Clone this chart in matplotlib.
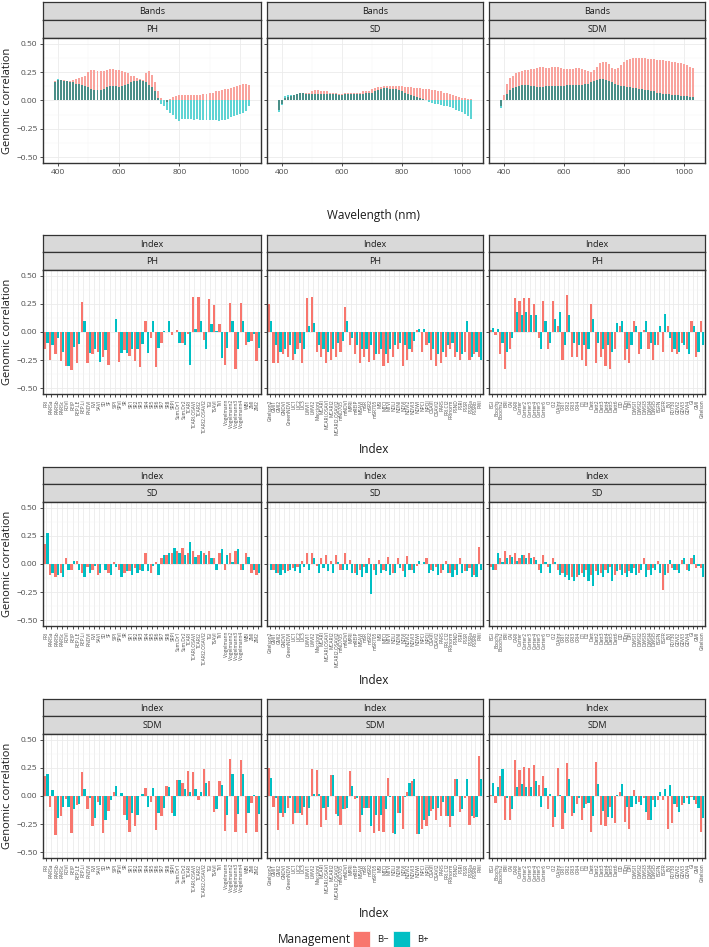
import numpy as np
import matplotlib.pyplot as plt
from matplotlib.patches import Rectangle

plt.rcParams['font.family'] = ['Open Sans', 'DejaVu Sans']

# ---- data: spectral bands (nm) ----
wavelength = np.arange(390, 1031, 10)

bands_ph_bminus = [0.17, 0.18, 0.18, 0.18, 0.17, 0.17, 0.18, 0.19, 0.20, 0.21,
                   0.22, 0.25, 0.27, 0.27, 0.26, 0.26, 0.26, 0.27, 0.28, 0.28,
                   0.27, 0.27, 0.26, 0.25, 0.24, 0.22, 0.22, 0.20, 0.19, 0.18,
                   0.24, 0.26, 0.23, 0.16, 0.08, 0.02, 0.00, -0.01, 0.01, 0.03,
                   0.04, 0.05, 0.05, 0.05, 0.05, 0.05, 0.05, 0.05, 0.05, 0.06,
                   0.06, 0.07, 0.07, 0.08, 0.08, 0.09, 0.10, 0.10, 0.11, 0.12,
                   0.13, 0.14, 0.15, 0.15, 0.14]
bands_ph_bplus = [0.16, 0.19, 0.18, 0.17, 0.17, 0.16, 0.16, 0.15, 0.15, 0.14,
                  0.13, 0.12, 0.10, 0.09, 0.09, 0.09, 0.10, 0.12, 0.13, 0.13,
                  0.13, 0.12, 0.13, 0.14, 0.15, 0.16, 0.17, 0.17, 0.18, 0.17,
                  0.16, 0.14, 0.12, 0.08, 0.02, -0.03, -0.05, -0.08, -0.11, -0.13,
                  -0.16, -0.18, -0.16, -0.16, -0.16, -0.16, -0.17, -0.16, -0.17, -0.17,
                  -0.17, -0.17, -0.17, -0.17, -0.18, -0.17, -0.17, -0.16, -0.15, -0.14,
                  -0.13, -0.12, -0.11, -0.09, -0.05]
bands_sd_bminus = [-0.08, -0.03, 0.02, 0.03, 0.04, 0.05, 0.06, 0.07, 0.07, 0.07,
                   0.07, 0.08, 0.09, 0.09, 0.08, 0.08, 0.08, 0.07, 0.07, 0.07,
                   0.06, 0.06, 0.07, 0.07, 0.07, 0.07, 0.07, 0.07, 0.08, 0.08,
                   0.08, 0.10, 0.11, 0.12, 0.12, 0.13, 0.13, 0.13, 0.13, 0.13,
                   0.13, 0.13, 0.12, 0.12, 0.12, 0.11, 0.11, 0.11, 0.10, 0.10,
                   0.10, 0.09, 0.09, 0.08, 0.08, 0.07, 0.07, 0.06, 0.05, 0.04,
                   0.03, 0.02, 0.02, 0.01, 0.01]
bands_sd_bplus = [-0.10, -0.04, 0.04, 0.05, 0.05, 0.05, 0.06, 0.07, 0.07, 0.06,
                  0.06, 0.06, 0.06, 0.06, 0.06, 0.06, 0.06, 0.06, 0.06, 0.06,
                  0.05, 0.05, 0.06, 0.06, 0.06, 0.06, 0.06, 0.06, 0.06, 0.07,
                  0.07, 0.07, 0.08, 0.09, 0.10, 0.11, 0.11, 0.10, 0.10, 0.10,
                  0.09, 0.08, 0.07, 0.06, 0.05, 0.04, 0.03, 0.02, 0.01, 0.00,
                  -0.01, -0.02, -0.03, -0.03, -0.04, -0.05, -0.05, -0.06, -0.07, -0.08,
                  -0.09, -0.10, -0.12, -0.14, -0.16]
bands_sdm_bminus = [-0.05, 0.05, 0.15, 0.20, 0.22, 0.24, 0.25, 0.26, 0.27, 0.27,
                    0.28, 0.28, 0.29, 0.30, 0.30, 0.29, 0.29, 0.30, 0.30, 0.30,
                    0.29, 0.28, 0.28, 0.28, 0.28, 0.29, 0.29, 0.28, 0.27, 0.26,
                    0.25, 0.27, 0.30, 0.33, 0.34, 0.34, 0.32, 0.29, 0.28, 0.29,
                    0.31, 0.34, 0.36, 0.37, 0.38, 0.38, 0.38, 0.38, 0.38, 0.37,
                    0.37, 0.37, 0.36, 0.36, 0.36, 0.35, 0.35, 0.34, 0.34, 0.33,
                    0.33, 0.32, 0.31, 0.30, 0.29]
bands_sdm_bplus = [-0.07, 0.00, 0.06, 0.09, 0.11, 0.12, 0.13, 0.14, 0.14, 0.14,
                   0.13, 0.13, 0.12, 0.12, 0.12, 0.13, 0.13, 0.13, 0.13, 0.13,
                   0.13, 0.13, 0.14, 0.14, 0.14, 0.14, 0.14, 0.14, 0.15, 0.15,
                   0.16, 0.17, 0.18, 0.19, 0.19, 0.18, 0.17, 0.16, 0.15, 0.14,
                   0.13, 0.13, 0.12, 0.12, 0.11, 0.11, 0.10, 0.10, 0.09, 0.09,
                   0.08, 0.08, 0.07, 0.07, 0.06, 0.06, 0.06, 0.05, 0.05, 0.05,
                   0.04, 0.04, 0.04, 0.03, 0.03]

# ---- data: vegetation indices, three subsets ----
index_set1 = ['PRI', 'RARSa', 'RARSb', 'RARSc', 'RDVI', 'REIP', 'REP.LE', 'REP.Li',
              'RNDVI', 'RVI', 'SAVI', 'SD', 'SF', 'SIPI', 'SPVI', 'SR', 'SR1', 'SR2',
              'SR3', 'SR4', 'SR5', 'SR6', 'SR7', 'SR8', 'SRPI', 'Sum.Dr1', 'Sum.Dr2',
              'TCARI', 'TCARI.OSAVI', 'TCARI2', 'TCARI2.OSAVI2', 'TGI', 'TSAVI', 'TVI',
              'Vogelmann', 'Vogelmann2', 'Vogelmann3', 'Vogelmann4', 'WBI', 'ZMI', 'ZM2']
index_set2 = ['Gitelson2', 'GMI1', 'GMI2', 'GNDVI', 'GreenNDVI', 'LIC1', 'LIC2', 'LIC3',
              'LWVI1', 'LWVI2', 'Maccioni', 'MCARI', 'MCARI.OSAVI', 'MCARI2',
              'MCARI2.OSAVI2', 'mND705', 'mNDVI', 'MPRI', 'mREIP', 'MSAVI', 'mSR',
              'mSR2', 'mSR705', 'MSI', 'MTCI', 'MTVI', 'NDLI', 'NDNI', 'NDVI', 'NDVI2',
              'NDVI3', 'NDWI', 'NPCI', 'NPQI', 'OSAVI', 'OSAVI2', 'PARS', 'PRI.CI2',
              'PRInorm', 'PSND', 'PSRI', 'PSSR', 'PSSRa', 'PSSRb', 'PWI']
index_set3 = ['BGI', 'Boochs', 'Boochs2', 'BRI', 'CAI', 'CARI', 'Carter', 'Carter2',
              'Carter3', 'Carter4', 'Carter5', 'Carter6', 'CI', 'CI2', 'ClAInt', 'CRI1',
              'CRI2', 'CRI3', 'CRI4', 'D1', 'D2', 'Datt', 'Datt2', 'Datt3', 'Datt4',
              'Datt5', 'Datt6', 'DD', 'DDn', 'DPI', 'DWSI1', 'DWSI2', 'DWSI3', 'DWSI4',
              'DWSI5', 'EGFN', 'EGFR', 'EVI', 'FD730', 'GDVI2', 'GDVI3', 'GDVI4', 'GI',
              'GMI', 'Gitelson']

ph_set1_bminus = [-0.15, -0.25, -0.20, -0.26, -0.30, -0.34, -0.28, 0.27, -0.28, -0.20,
                  -0.18, -0.22, -0.29, 0.00, -0.27, -0.16, -0.21, -0.26, -0.31, 0.10,
                  -0.05, -0.31, -0.10, 0.00, -0.03, 0.02, -0.10, -0.02, 0.31, 0.31,
                  -0.07, 0.29, 0.24, 0.07, -0.29, 0.26, -0.33, 0.26, -0.12, -0.08, -0.26]
ph_set1_bplus = [-0.10, -0.12, -0.05, -0.18, -0.30, -0.13, -0.11, 0.10, -0.19, -0.15,
                 -0.27, -0.16, 0.00, 0.12, -0.19, -0.19, -0.15, -0.15, -0.11, -0.19,
                 0.10, -0.14, 0.01, 0.10, 0.00, -0.10, -0.12, -0.29, 0.03, 0.10,
                 -0.15, 0.07, 0.01, -0.23, -0.14, 0.10, -0.15, 0.10, -0.09, -0.02, -0.14]
ph_set2_bminus = [0.25, -0.28, -0.28, -0.20, -0.22, -0.25, -0.15, -0.28, 0.30, 0.31,
                  -0.18, -0.22, -0.28, -0.25, -0.22, -0.18, 0.22, -0.12, -0.20, -0.28,
                  -0.22, -0.27, -0.25, -0.20, -0.30, -0.28, -0.22, -0.15, -0.30, -0.25,
                  -0.18, 0.02, -0.18, -0.12, -0.25, -0.30, -0.28, -0.22, -0.15, -0.22,
                  -0.25, -0.18, -0.25, -0.20, -0.22]
ph_set2_bplus = [0.10, -0.12, -0.18, -0.15, -0.12, -0.20, -0.10, -0.15, 0.05, 0.08,
                 -0.12, -0.15, -0.18, -0.15, -0.10, -0.08, 0.10, -0.05, -0.12, -0.15,
                 -0.15, -0.12, -0.20, -0.15, -0.20, -0.15, -0.12, -0.10, -0.12, -0.15,
                 -0.08, 0.03, 0.03, -0.10, -0.15, -0.20, -0.18, -0.12, -0.10, -0.18,
                 -0.20, 0.10, -0.22, -0.18, -0.25]
ph_set3_bminus = [0.02, -0.03, -0.20, -0.33, -0.15, 0.30, 0.28, 0.30, 0.30, 0.25,
                  -0.05, 0.28, -0.15, 0.28, 0.05, -0.25, 0.33, -0.22, -0.22, -0.25,
                  -0.30, 0.25, -0.28, -0.22, -0.30, -0.33, -0.15, 0.05, -0.25, -0.28,
                  0.10, -0.20, 0.02, -0.15, -0.25, -0.12, -0.18, 0.05, -0.18, -0.20,
                  -0.10, -0.15, 0.10, -0.22, 0.10]
ph_set3_bplus = [0.04, 0.03, -0.10, -0.18, -0.05, 0.18, 0.15, 0.18, 0.15, 0.15,
                 -0.15, 0.10, -0.10, 0.12, 0.18, -0.12, 0.15, -0.10, -0.12, -0.12,
                 -0.15, 0.12, -0.10, -0.15, -0.12, -0.18, 0.08, 0.10, -0.15, -0.12,
                 0.05, -0.15, 0.10, -0.10, -0.12, 0.05, 0.16, -0.05, -0.15, -0.18,
                 -0.12, -0.20, 0.05, -0.18, -0.12]

sd_set1_bminus = [0.18, -0.10, -0.12, -0.08, 0.05, -0.05, 0.03, -0.08, -0.03, -0.05,
                  -0.10, 0.00, -0.08, 0.02, -0.05, -0.08, -0.06, -0.04, -0.05, 0.10,
                  -0.08, 0.02, 0.05, 0.08, 0.10, 0.12, 0.14, 0.10, 0.12, 0.08,
                  0.10, 0.12, 0.05, 0.10, -0.05, 0.10, 0.12, -0.05, 0.10, -0.08, -0.10]
sd_set1_bplus = [0.28, -0.08, -0.10, -0.12, -0.05, 0.03, -0.05, -0.12, -0.08, -0.02,
                 -0.08, -0.05, -0.10, -0.03, -0.12, -0.06, -0.10, -0.08, -0.06, -0.06,
                 -0.02, -0.10, 0.08, 0.10, 0.14, 0.10, 0.08, 0.20, 0.06, 0.12,
                 0.08, 0.05, -0.05, 0.13, 0.08, 0.02, 0.13, -0.05, 0.06, -0.05, -0.08]
sd_set2_bminus = [0.00, -0.05, -0.08, -0.05, -0.06, -0.04, -0.03, 0.03, 0.10, 0.10,
                  -0.02, 0.05, 0.08, 0.03, 0.08, -0.05, 0.10, 0.04, -0.08, -0.05,
                  -0.03, 0.05, -0.05, 0.04, -0.05, 0.06, -0.08, 0.05, -0.06, 0.07,
                  -0.05, -0.02, 0.00, 0.05, -0.05, -0.03, -0.08, 0.03, -0.08, -0.05,
                  0.05, -0.06, -0.04, -0.10, 0.15]
sd_set2_bplus = [-0.05, -0.08, -0.10, -0.08, -0.05, -0.06, -0.08, -0.03, -0.05, 0.05,
                 -0.08, -0.04, -0.06, -0.08, 0.02, -0.05, -0.05, -0.08, -0.10, -0.12,
                 -0.08, -0.27, -0.10, -0.08, -0.06, -0.10, -0.08, -0.04, -0.12, -0.05,
                 -0.08, 0.03, 0.02, -0.08, -0.06, -0.10, -0.05, -0.08, -0.12, -0.10,
                 -0.08, -0.06, -0.12, -0.12, -0.05]
sd_set3_bminus = [-0.03, -0.05, 0.05, 0.12, 0.08, 0.10, 0.05, 0.08, 0.10, 0.06,
                  -0.05, 0.08, -0.03, 0.05, -0.05, -0.08, -0.10, -0.12, -0.12, -0.08,
                  -0.05, -0.10, -0.06, -0.08, -0.05, -0.03, -0.10, -0.05, -0.08, -0.06,
                  -0.04, -0.08, 0.05, -0.05, -0.04, 0.03, -0.23, -0.08, -0.04, -0.05,
                  0.04, -0.05, 0.05, -0.04, -0.04]
sd_set3_bplus = [-0.05, 0.10, 0.02, 0.05, 0.06, 0.03, 0.08, 0.05, 0.05, 0.04,
                 -0.08, 0.02, -0.08, 0.02, -0.10, -0.12, -0.14, -0.15, -0.10, -0.12,
                 -0.15, -0.20, -0.10, -0.12, -0.08, -0.15, -0.06, -0.10, -0.12, -0.08,
                 -0.10, -0.05, -0.12, -0.10, -0.05, -0.08, -0.10, 0.04, -0.05, -0.08,
                 0.05, -0.06, 0.08, -0.02, -0.12]

sdm_set1_bminus = [0.18, -0.10, -0.35, -0.18, -0.03, -0.33, -0.08, 0.21, -0.12, -0.27,
                   -0.05, -0.33, -0.13, 0.04, 0.00, -0.17, -0.32, -0.27, 0.00, 0.07,
                   -0.05, -0.30, -0.18, 0.09, -0.15, 0.14, 0.12, 0.22, 0.21, -0.04,
                   0.24, 0.13, -0.14, 0.13, -0.31, 0.33, -0.32, 0.32, -0.33, -0.06, -0.32]
sdm_set1_bplus = [0.20, 0.05, -0.20, -0.10, -0.10, -0.12, -0.07, 0.06, -0.02, -0.20,
                  -0.08, -0.21, -0.04, 0.09, 0.03, -0.21, -0.15, -0.17, 0.02, -0.10,
                  0.07, -0.15, -0.11, 0.08, -0.18, 0.14, 0.06, 0.04, 0.06, 0.04,
                  0.12, 0.00, -0.12, 0.10, -0.17, 0.20, -0.16, 0.20, -0.15, 0.01, -0.16]
sdm_set2_bminus = [0.25, -0.10, -0.30, -0.19, -0.11, -0.25, -0.15, -0.17, -0.26, 0.24,
                   0.23, -0.28, -0.21, 0.19, -0.16, -0.26, -0.12, 0.22, -0.03, -0.32,
                   -0.11, -0.11, -0.33, -0.31, -0.32, 0.16, -0.33, -0.15, -0.29, 0.04,
                   0.13, -0.34, -0.29, -0.27, -0.13, -0.21, -0.18, -0.18, -0.28, 0.15,
                   -0.14, -0.02, -0.26, -0.20, 0.36]
sdm_set2_bplus = [0.16, -0.02, -0.15, -0.15, -0.02, -0.15, -0.15, -0.10, -0.11, 0.02,
                  0.02, -0.11, -0.10, 0.19, -0.18, -0.12, -0.11, 0.09, -0.02, -0.17,
                  -0.11, -0.27, -0.17, -0.17, -0.12, -0.01, -0.34, -0.15, -0.01, 0.12,
                  0.15, -0.34, -0.21, -0.18, -0.12, -0.11, -0.05, -0.18, -0.18, 0.15,
                  -0.12, 0.15, -0.18, -0.19, 0.15]
sdm_set3_bminus = [0.01, -0.06, 0.18, -0.21, -0.21, 0.32, 0.23, 0.26, 0.25, 0.28,
                   0.10, 0.18, -0.12, -0.28, 0.25, -0.29, 0.29, -0.18, -0.07, -0.21,
                   -0.07, -0.32, 0.30, -0.26, -0.27, -0.10, -0.24, 0.04, -0.23, -0.29,
                   0.05, -0.05, -0.02, -0.21, -0.04, -0.04, -0.04, -0.29, -0.24, -0.10,
                   -0.08, -0.02, -0.01, -0.07, -0.32]
sdm_set3_bplus = [0.12, 0.08, 0.24, -0.02, -0.12, 0.08, 0.11, 0.08, 0.08, 0.13,
                  -0.10, 0.07, 0.02, -0.19, 0.01, -0.15, 0.15, -0.15, -0.02, -0.11,
                  -0.06, -0.18, 0.11, -0.13, -0.19, -0.20, 0.01, 0.11, -0.10, -0.10,
                  -0.07, -0.08, -0.14, -0.21, -0.10, 0.04, 0.06, 0.10, -0.07, -0.14,
                  -0.06, -0.07, -0.04, -0.11, -0.20]

traits = ['PH', 'SD', 'SDM']
W, H = 709, 947
PINK, CYAN = '#F8766D', '#00BFC4'
cols = [(43, 261), (267, 483), (489, 705)]


def fbox(x0, y0, x1, y1):
    return [x0 / W, 1 - y1 / H, (x1 - x0) / W, (y1 - y0) / H]


def strip(x0, x1, y0, y1, label):
    ax = fig.add_axes(fbox(x0, y0, x1, y1))
    ax.set_facecolor('#d9d9d9')
    ax.set_xticks([])
    ax.set_yticks([])
    for s in ax.spines.values():
        s.set_color('#333333')
        s.set_linewidth(0.9)
    ax.text(0.5, 0.45, label, ha='center', va='center', fontsize=6.5,
            color='#1a1a1a', transform=ax.transAxes)


def panel(x0, x1, y0, y1, show_y):
    ax = fig.add_axes(fbox(x0, y0, x1, y1))
    ax.set_ylim(-0.553, 0.553)
    ax.set_yticks([-0.5, -0.25, 0, 0.25, 0.5])
    ax.set_yticks([-0.375, -0.125, 0.125, 0.375], minor=True)
    ax.grid(which='major', color='#ebebeb', lw=0.6)
    ax.grid(which='minor', axis='y', color='#f5f5f5', lw=0.35)
    ax.set_axisbelow(True)
    for s in ax.spines.values():
        s.set_color('#333333')
        s.set_linewidth(1.0)
    ax.tick_params(which='major', color='#333333', length=2.5, width=0.6,
                   labelsize=6.0, labelcolor='#4d4d4d', pad=1.5)
    ax.tick_params(which='minor', length=0)
    if show_y:
        ax.set_yticklabels(['\u22120.50', '\u22120.25', '0.00', '0.25', '0.50'])
        # y title placed by hand so it stays inside the figure
        fig.text(8 / W, 1 - (y0 + y1) / 2 / H, 'Genomic correlation', rotation=90,
                 ha='center', va='center', fontsize=8, color='#1a1a1a')
    else:
        ax.tick_params(labelleft=False)
    return ax


fig = plt.figure(figsize=(W / 100, H / 100), dpi=100)

# ---- top row: spectral bands ----
bands = [(bands_ph_bminus, bands_ph_bplus), (bands_sd_bminus, bands_sd_bplus),
         (bands_sdm_bminus, bands_sdm_bplus)]
for c, (bm, bp) in enumerate(bands):
    x0, x1 = cols[c]
    strip(x0, x1, 2, 20, 'Bands')
    strip(x0, x1, 20, 38, traits[c])
    ax = panel(x0, x1, 38, 163, c == 0)
    bm = np.array(bm)
    bp = np.array(bp)
    both = np.where(np.sign(bm) == np.sign(bp),
                    np.sign(bm) * np.minimum(np.abs(bm), np.abs(bp)), 0)
    ax.bar(wavelength, bm, width=6.5, color='#F9A39D', lw=0)
    ax.bar(wavelength, bp, width=6.5, color='#5ED4D4', lw=0)
    ax.bar(wavelength, both, width=6.5, color='#4A8F88', lw=0)
    ax.set_xlim(350, 1070)
    ax.set_xticks([400, 600, 800, 1000])
    ax.set_xticks([500, 700, 900], minor=True)
    ax.grid(which='minor', axis='x', color='#f5f5f5', lw=0.35)
fig.text(374 / W, 1 - 215 / H, 'Wavelength (nm)', ha='center', va='center',
         fontsize=8.5, color='#1a1a1a')

# ---- index rows ----
sets = [index_set1, index_set2, index_set3]
index_values = {
    'PH': [(ph_set1_bminus, ph_set1_bplus), (ph_set2_bminus, ph_set2_bplus),
           (ph_set3_bminus, ph_set3_bplus)],
    'SD': [(sd_set1_bminus, sd_set1_bplus), (sd_set2_bminus, sd_set2_bplus),
           (sd_set3_bminus, sd_set3_bplus)],
    'SDM': [(sdm_set1_bminus, sdm_set1_bplus), (sdm_set2_bminus, sdm_set2_bplus),
            (sdm_set3_bminus, sdm_set3_bplus)],
}
for r, trait in enumerate(traits):
    top = 270 + r * 232
    bottom = top + 124
    for c in range(3):
        x0, x1 = cols[c]
        strip(x0, x1, top - 35, top - 18, 'Index')
        strip(x0, x1, top - 18, top, trait)
        ax = panel(x0, x1, top, bottom, c == 0)
        labels = sets[c]
        bm, bp = index_values[trait][c]
        pos = np.arange(1, len(labels) + 1)
        ax.bar(pos - 0.225, bm, width=0.45, color=PINK, lw=0)
        ax.bar(pos + 0.225, bp, width=0.45, color=CYAN, lw=0)
        ax.set_xlim(0.4, len(labels) + 0.6)
        ax.set_xticks(pos)
        ax.set_xticklabels(labels, rotation=90, fontsize=3.5, color='#4d4d4d')
    fig.text(374 / W, 1 - (bottom + 55) / H, 'Index', ha='center', va='center',
             fontsize=8.5, color='#1a1a1a')

# ---- legend ----
fig.text(278 / W, 1 - 939 / H, 'Management', ha='left', va='center',
         fontsize=8.5, color='#1a1a1a')
for kx, col, lab in [(353, PINK, 'B\u2212'), (393, CYAN, 'B+')]:
    fig.patches.append(Rectangle((kx / W, 1 - 947 / H), 17 / W, 16 / H,
                                 transform=fig.transFigure, facecolor=col,
                                 edgecolor='white', lw=0.5))
    fig.text((kx + 24) / W, 1 - 939 / H, lab, ha='left', va='center',
             fontsize=6.8, color='#1a1a1a')

fig.savefig('out.png', dpi=100)
